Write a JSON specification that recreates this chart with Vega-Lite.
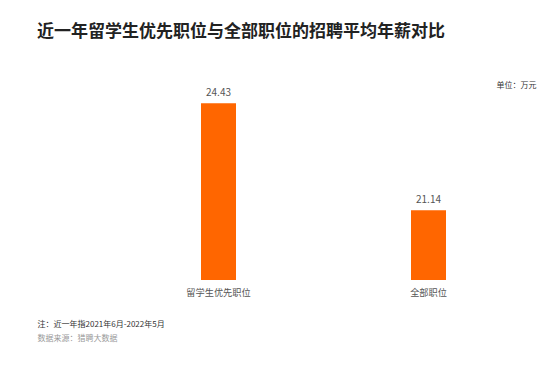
{
  "$schema": "https://vega.github.io/schema/vega-lite/v6.json",
  "autosize": "none",
  "width": 420,
  "height": 228,
  "padding": {"left": 113.5, "top": 52, "right": 20.5, "bottom": 89},
  "background": "white",
  "config": {
    "font": "Noto Sans CJK SC",
    "view": {"stroke": null}
  },
  "title": {
    "text": "近一年留学生优先职位与全部职位的招聘平均年薪对比",
    "anchor": "start",
    "frame": "group",
    "dx": -76.5,
    "fontSize": 17,
    "fontWeight": "bold",
    "color": "#222222",
    "baseline": "middle",
    "offset": 3
  },
  "data": {
    "values": [
      {"category": "留学生优先职位", "salary": 24.43},
      {"category": "全部职位", "salary": 21.14}
    ]
  },
  "encoding": {
    "x": {
      "field": "category",
      "type": "nominal",
      "sort": null,
      "scale": {"paddingInner": 0, "paddingOuter": 0},
      "axis": {
        "domain": false,
        "ticks": false,
        "labelAngle": 0,
        "labelPadding": 8,
        "labelFontSize": 9.2,
        "labelColor": "#555555",
        "title": "注：近一年指2021年6月-2022年5月",
        "titleX": -76.5,
        "titleY": 44,
        "titleAlign": "left",
        "titleBaseline": "middle",
        "titleFontSize": 8,
        "titleFontWeight": "normal",
        "titleColor": "#333333"
      }
    }
  },
  "layer": [
    {
      "mark": {"type": "bar", "size": 35, "color": "#ff6600", "clip": true},
      "encoding": {
        "y": {
          "field": "salary",
          "type": "quantitative",
          "scale": {"domain": [19, 26], "zero": false, "nice": false},
          "axis": {
            "orient": "left",
            "domain": false,
            "ticks": false,
            "labels": false,
            "grid": false,
            "title": "数据来源：猎聘大数据",
            "titleAngle": 0,
            "titleX": -76.5,
            "titleY": 286,
            "titleAlign": "left",
            "titleBaseline": "middle",
            "titleFontSize": 8,
            "titleFontWeight": "normal",
            "titleColor": "#999999"
          }
        }
      }
    },
    {
      "mark": {"type": "text", "dy": -10, "baseline": "middle", "fontSize": 10, "color": "#555555"},
      "encoding": {
        "y": {
          "field": "salary",
          "type": "quantitative",
          "scale": {"domain": [19, 26], "zero": false, "nice": false},
          "axis": {
            "orient": "right",
            "domain": false,
            "ticks": false,
            "labels": false,
            "grid": false,
            "title": "单位：万元",
            "titleAngle": 0,
            "titleX": 2.5,
            "titleY": 33,
            "titleAlign": "right",
            "titleBaseline": "middle",
            "titleFontSize": 8,
            "titleFontWeight": "normal",
            "titleColor": "#333333"
          }
        },
        "text": {"field": "salary", "type": "quantitative", "format": ".2f"}
      }
    }
  ],
  "resolve": {"axis": {"y": "independent"}}
}
